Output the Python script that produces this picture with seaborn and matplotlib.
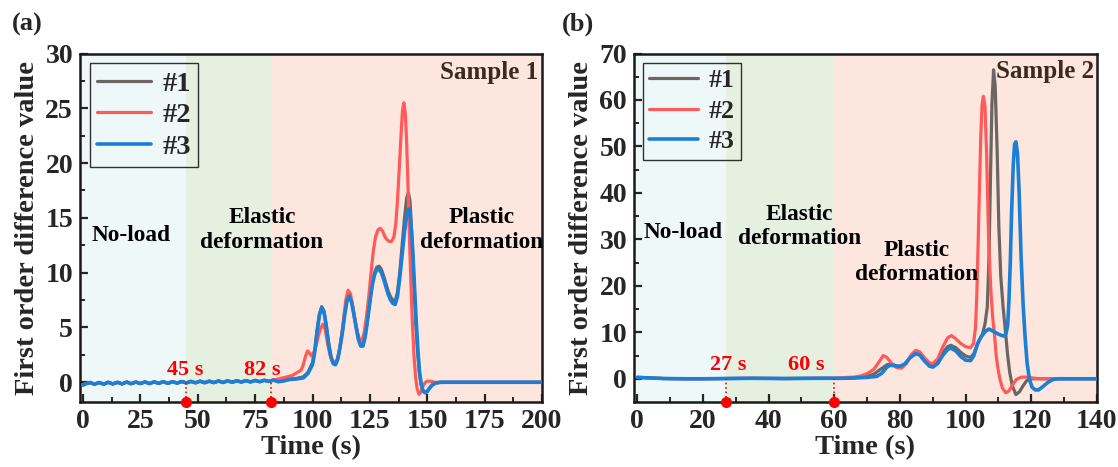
import matplotlib
matplotlib.use("Agg")
import matplotlib.pyplot as plt
import pandas as pd
import seaborn as sns
from matplotlib.ticker import MultipleLocator

# ---------------- data ----------------
series_names = ["#1", "#2", "#3"]
series_colors = ["#6b6663", "#ff5a5a", "#1a7fd5"]

# Sample 1 -- shared (overlapping) low-amplitude baseline before 83 s
s1_base_t = [0, 1, 3, 5, 7, 9, 11, 13, 15, 17, 19, 21, 23, 25, 27, 29, 31, 33, 35, 37, 39,
             41, 43, 45, 47, 49, 51, 53, 55, 57, 59, 61, 63, 65, 67, 69, 71, 73, 75, 77, 79, 81, 83]
s1_base_y = [-0.25, -0.15, -0.02, -0.18, -0.02, -0.17, 0.0, -0.15, 0.0, -0.15, 0.02, -0.13, 0.02,
             -0.12, 0.03, -0.12, 0.04, -0.1, 0.05, -0.1, 0.06, -0.08, 0.07, -0.06, 0.08, -0.05,
             0.1, -0.04, 0.1, -0.03, 0.12, -0.02, 0.13, 0.0, 0.14, 0.02, 0.15, 0.03, 0.17, 0.05,
             0.18, 0.08, 0.2]

s1_t_1 = [85, 87, 90, 93, 96, 98, 100, 101, 102, 103, 104, 105, 106, 107, 108, 109, 110, 111, 112,
          113, 114, 115, 116, 117, 118, 119, 120, 121, 122, 123, 124, 125, 126, 127, 128, 129, 130,
          131, 132, 133, 134, 135, 136, 137, 138, 139, 140, 141, 141.8, 142.5, 143, 143.6, 144.3,
          145, 145.7, 146.5, 147.3, 148.2, 149, 150, 151, 152, 153.5, 156, 200]
s1_y_1 = [0.1, 0.2, 0.3, 0.35, 0.5, 0.9, 1.8, 3.0, 4.8, 6.2, 6.9, 6.5, 5.2, 3.6, 2.4, 1.8, 1.7,
          2.2, 3.3, 4.6, 6.3, 7.6, 7.9, 7.4, 6.3, 5.1, 4.0, 3.4, 3.4, 4.3, 5.8, 7.5, 9.0, 10.0,
          10.5, 10.6, 10.3, 9.7, 9.0, 8.3, 7.8, 7.5, 7.4, 8.2, 10.0, 12.4, 14.8, 16.8, 17.3,
          16.5, 14.5, 12.0, 8.5, 5.5, 3.0, 1.0, -0.2, -0.8, -0.95, -0.8, -0.5, -0.25, -0.05,
          0.0, 0.0]

s1_t_2 = [85, 87, 89, 91, 93, 95, 96, 97, 97.8, 98.6, 99.5, 100.5, 101.5, 102.5, 103.5, 104.5,
          105.5, 106.5, 107.5, 108.5, 109.5, 110.5, 111.5, 112.5, 113.5, 114.5, 115.5, 116.5,
          117.5, 118.5, 119.5, 120.5, 121.5, 122.5, 123.5, 124.5, 125.5, 126.5, 127.5, 128.5,
          129.5, 130.5, 131.5, 132.5, 133.5, 134.5, 135.5, 136.3, 137, 137.8, 138.5, 139.2,
          139.8, 140.4, 141, 141.6, 142.2, 142.8, 143.5, 144.2, 144.9, 145.6, 146.4, 147.2,
          148, 149, 150, 151.5, 153, 200]
s1_y_2 = [0.3, 0.4, 0.5, 0.6, 0.85, 1.1, 1.6, 2.4, 2.85, 2.7, 2.4, 2.7, 3.3, 4.2, 4.9, 5.3, 4.8,
          3.6, 2.6, 2.0, 1.8, 1.9, 2.6, 4.0, 5.7, 7.5, 8.4, 8.1, 7.0, 5.7, 4.6, 3.9, 3.8, 4.5,
          6.0, 7.8, 10.0, 12.0, 13.3, 13.9, 14.05, 13.8, 13.3, 13.0, 12.85, 12.85, 13.3, 14.5,
          16.5, 19.5, 22.3, 24.8, 25.5, 24.6, 22.0, 18.0, 13.5, 9.5, 5.5, 2.5, 0.5, -0.6, -1.1,
          -0.9, -0.4, -0.05, 0.1, 0.1, 0.0, 0.0]

s1_t_3 = [85, 87, 90, 93, 96, 98, 100, 101, 102, 103, 104, 105, 106, 107, 108, 109, 110, 111, 112,
          113, 114, 115, 116, 117, 118, 119, 120, 121, 122, 123, 124, 125, 126, 127, 128, 129, 130,
          131, 132, 133, 134, 135, 136, 137, 138, 139, 140, 141, 141.9, 142.6, 143.2, 143.8, 144.5,
          145.2, 145.9, 146.6, 147.4, 148.2, 149, 150, 151, 152, 153.5, 156, 200]
s1_y_3 = [0.05, 0.1, 0.25, 0.3, 0.4, 0.8, 1.6, 2.8, 4.6, 6.1, 6.8, 6.4, 5.1, 3.5, 2.3, 1.7, 1.6,
          2.1, 3.2, 4.5, 6.1, 7.4, 7.85, 7.3, 6.2, 5.0, 3.9, 3.3, 3.3, 4.2, 5.7, 7.3, 8.8, 9.8,
          10.3, 10.3, 10.0, 9.4, 8.7, 8.0, 7.5, 7.2, 7.1, 7.8, 9.5, 11.5, 13.6, 15.2, 15.8, 15.2,
          13.6, 11.5, 8.5, 5.5, 3.0, 1.0, -0.2, -0.8, -0.95, -0.85, -0.55, -0.3, -0.08, 0.0, 0.0]

# Sample 2 -- shared baseline before 60 s
s2_base_t = [0, 3, 8, 15, 20, 27, 35, 45, 55, 60]
s2_base_y = [0.3, 0.2, 0.05, 0.0, 0.0, 0.05, 0.1, 0.05, 0.1, 0.1]

s2_t_1 = [62, 65, 68, 70, 72, 74, 76, 77.5, 79, 80.5, 82, 83.5, 84.8, 86, 87.5, 89, 90, 91.5, 93,
          94.5, 95.5, 97, 98.5, 100, 101.5, 102.5, 103.6, 105.1, 105.9, 106.6, 107.1, 107.5,
          108.0, 108.5, 109.0, 109.6, 110.1, 110.7, 111.4, 112.2, 112.8, 113.4, 114.2, 115.3,
          116.4, 117.5, 118.6, 120, 140]
s2_y_1 = [0.1, 0.2, 0.3, 0.5, 1.0, 2.0, 3.0, 3.2, 2.7, 2.6, 3.5, 5.0, 5.8, 5.3, 4.1, 3.0, 2.9,
          3.8, 5.6, 6.9, 7.2, 6.7, 5.7, 4.9, 4.6, 5.4, 7.4, 9.6, 11.8, 15.5, 26, 41, 59, 66.5,
          63, 49, 33, 22, 15.5, 9.6, 5.0, 1.5, -1.5, -3.4, -2.8, -1.5, -0.4, 0.0, 0.0]

s2_t_2 = [62, 64, 66, 68, 70, 72, 73.5, 74.9, 76, 77.5, 79, 80.5, 82, 83.5, 84.8, 86, 87.5, 89,
          90, 91.5, 93, 94.5, 95.7, 97, 98.5, 100, 101.5, 102.4, 103.0, 103.4, 103.8, 104.2,
          104.6, 105.0, 105.4, 105.9, 106.4, 107.0, 107.6, 108.2, 108.8, 109.3, 109.8, 110.4,
          111.2, 112.2, 113.2, 114.3, 115.5, 117, 119, 121, 123, 140]
s2_y_2 = [0.2, 0.3, 0.35, 0.6, 1.1, 2.0, 3.5, 5.0, 4.6, 3.3, 2.4, 2.3, 3.3, 5.2, 6.1, 5.8, 4.5,
          3.4, 3.3, 4.3, 6.8, 8.8, 9.3, 8.6, 7.6, 6.9, 6.7, 7.6, 11, 18, 29, 41, 52, 59, 60.8,
          58.5, 48, 30, 20, 13.5, 9.3, 5.0, 2.4, 0.0, -2.0, -3.0, -2.6, -1.3, -0.1, 0.35, 0.35,
          0.1, 0.0, 0.0]

s2_t_3 = [62, 66, 70, 72.9, 74.5, 76, 77, 78.5, 80, 81.5, 83, 84.8, 86, 87.5, 89, 90, 91.5, 93,
          94.5, 95.4, 97, 98.5, 100, 101.5, 102.5, 103.6, 104.6, 106, 107.1, 108.5, 109.7, 111,
          111.7, 112.3, 112.8, 113.2, 113.6, 114.0, 114.5, 114.9, 115.3, 115.8, 116.3, 116.9,
          117.5, 118.1, 118.7, 119.4, 120.2, 121.2, 122.2, 123.5, 125, 126.5, 128, 140]
s2_y_3 = [0.1, 0.15, 0.3, 0.5, 1.2, 2.5, 2.9, 2.8, 2.7, 3.2, 4.5, 5.4, 5.1, 3.8, 2.7, 2.5, 3.3,
          5.0, 6.3, 6.6, 6.0, 4.8, 4.0, 3.9, 5.0, 7.5, 8.9, 10.2, 10.7, 10.2, 9.7, 9.3, 9.2, 9.7,
          11.5, 17, 25, 36, 46, 50.5, 51, 48.5, 40, 26, 16, 9, 3.5, 0.0, -1.8, -2.4, -2.4, -1.7,
          -0.8, -0.2, 0.0, 0.0]

# stage boundaries (s) and their labels
s1_events = [45, 82]
s2_events = [27, 60]
s1_event_labels = ["45 s", "82 s"]
s2_event_labels = ["27 s", "60 s"]

# ---------------- style ----------------
sns.set_theme(style="ticks")
plt.rcParams["font.family"] = ["Liberation Serif", "DejaVu Serif"]
plt.rcParams["font.weight"] = "bold"
plt.rcParams["axes.labelweight"] = "bold"
plt.rcParams["axes.edgecolor"] = "#1a1a1a"

bg_colors = ["#eef8f8", "#e5f0e1", "#fde6de"]


def long_frame(base_t, base_y, ts, ys):
    parts = []
    for name, t, y in zip(series_names, ts, ys):
        parts.append(pd.DataFrame({"Time": list(base_t) + list(t),
                                   "Value": list(base_y) + list(y),
                                   "Sample": name}))
    return pd.concat(parts, ignore_index=True)


df1 = long_frame(s1_base_t, s1_base_y, [s1_t_1, s1_t_2, s1_t_3], [s1_y_1, s1_y_2, s1_y_3])
df2 = long_frame(s2_base_t, s2_base_y, [s2_t_1, s2_t_2, s2_t_3], [s2_y_1, s2_y_2, s2_y_3])

fig = plt.figure(figsize=(11.18, 4.67), dpi=100)
ax1 = fig.add_axes([0.0716, 0.1392, 0.4132, 0.7462])
ax2 = fig.add_axes([0.5671, 0.1392, 0.4141, 0.7462])

palette = dict(zip(series_names, series_colors))


def draw(ax, df, xlim, ylim, events, ev_labels, ev_label_x, ev_label_y, xmaj, ymaj,
         texts, sample_text, sample_xy, leg_fs, leg_ls):
    ax.set_xlim(*xlim)
    ax.set_ylim(*ylim)
    bounds = [xlim[0]] + list(events) + [xlim[1]]
    for i in range(3):
        ax.axvspan(bounds[i], bounds[i + 1], color=bg_colors[i], lw=0, zorder=0)
    sns.lineplot(data=df, x="Time", y="Value", hue="Sample", hue_order=series_names,
                 palette=palette, estimator=None, sort=False, legend=False, ax=ax,
                 linewidth=2.3, zorder=3)
    ax.lines[-1].set_linewidth(2.6)
    for e in events:
        ax.plot([e, e], [ylim[0], 0], ls=":", color="red", lw=1.2, zorder=4)
    ax.plot(events, [ylim[0]] * len(events), "o", color="red", ms=7, clip_on=False, zorder=6)
    for lx, lab in zip(ev_label_x, ev_labels):
        ax.text(lx, ev_label_y, lab, color="red", fontsize=16, fontweight="bold",
                ha="center", va="bottom", zorder=5)
    for (tx, ty, s) in texts:
        ax.text(tx, ty, s, fontsize=16.8, fontweight="bold", ha="center", va="center",
                linespacing=1.2, color="black", zorder=5)
    ax.text(sample_xy[0], sample_xy[1], sample_text, fontsize=18, fontweight="bold",
            ha="right", va="center", color="#3b2a20", zorder=5)

    ax.xaxis.set_major_locator(MultipleLocator(xmaj))
    ax.xaxis.set_minor_locator(MultipleLocator(xmaj / 2))
    ax.yaxis.set_major_locator(MultipleLocator(ymaj))
    ax.yaxis.set_minor_locator(MultipleLocator(ymaj / 2))
    ax.tick_params(which="major", direction="in", length=6, width=1.6, labelsize=20,
                   top=False, right=False, pad=5)
    ax.tick_params(which="minor", direction="in", length=3.5, width=1.4, top=False, right=False)
    for lab in ax.get_xticklabels() + ax.get_yticklabels():
        lab.set_fontweight("bold")
    for sp in ax.spines.values():
        sp.set_linewidth(1.8)
    ax.set_xlabel("Time (s)", fontsize=20.5, labelpad=1)
    ax.set_ylabel("First order difference value", fontsize=20.5, labelpad=4)
    handles = ax.lines[:3]
    leg = ax.legend(handles, series_names, loc="upper left", fontsize=leg_fs, frameon=True,
                    fancybox=False, edgecolor="black", facecolor="none", framealpha=None,
                    handlelength=1.9, labelspacing=leg_ls, borderpad=0.25, borderaxespad=0.35,
                    handletextpad=0.4)
    leg.get_frame().set_linewidth(1.0)
    leg.set_zorder(7)


draw(ax1, df1, (-1.3, 200), (-1.8, 30), s1_events, s1_event_labels, [44.5, 78.2], 0.2, 25, 5,
     [(21, 13.4, "No-load"), (78, 13.9, "Elastic\ndeformation"),
      (173.5, 13.9, "Plastic\ndeformation")], "Sample 1", (198.5, 28.3), 20.5, 0.2)
draw(ax2, df2, (-1, 140), (-5, 70), s2_events, s2_event_labels, [27.7, 51.5], 0.8, 20, 10,
     [(14, 31.5, "No-load"), (49.3, 32.8, "Elastic\ndeformation"),
      (85.2, 25.1, "Plastic\ndeformation")], "Sample 2", (139, 66.2), 18.5, 0.3)

fig.text(0.011, 0.935, "(a)", fontsize=19, fontweight="bold")
fig.text(0.503, 0.935, "(b)", fontsize=19, fontweight="bold")

fig.savefig("out.png", dpi=100)
